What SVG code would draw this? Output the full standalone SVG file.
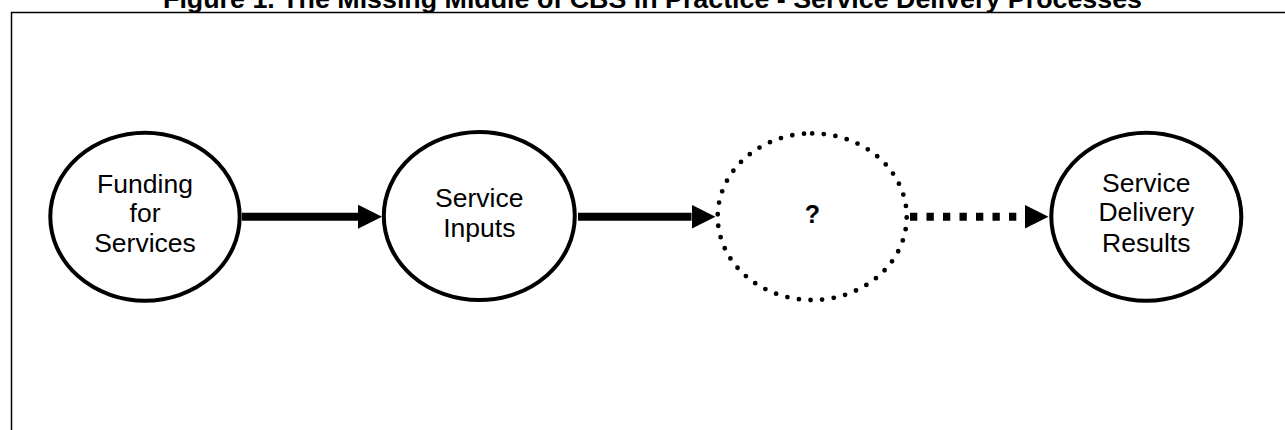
<svg xmlns="http://www.w3.org/2000/svg" width="1285" height="430" viewBox="0 0 1285 430">
  <style>
    .title { font-family: "Liberation Sans", Arial, sans-serif; font-size: 26.5px; font-weight: bold; fill: #000; }
    .label { font-family: "Liberation Sans", Arial, sans-serif; font-size: 26.5px; fill: #000; text-anchor: middle; }
    .qmark { font-family: "Liberation Sans", Arial, sans-serif; font-size: 25px; font-weight: bold; fill: #000; text-anchor: middle; }
    .node { fill: #fff; stroke: #000; stroke-width: 4; }
    .dotted { fill: #fff; stroke: #000; stroke-width: 4.8; stroke-linecap: round; stroke-dasharray: 0 11.7; }
    .edge { fill: none; stroke: #000; stroke-width: 8; }
    .edge.dashed { stroke-dasharray: 7.3 9.2; }
  </style>
  <defs>
    <marker id="head" markerUnits="userSpaceOnUse" markerWidth="24" markerHeight="24" viewBox="0 0 23.5 23.5" refX="0" refY="11.75" orient="auto">
      <path d="M0,0 L23.5,11.75 L0,23.5 Z" fill="#000"/>
    </marker>
  </defs>

  <rect width="1285" height="430" fill="#fff"/>

  <!-- figure caption, partly above the page edge -->
  <text class="title" x="163" y="7.5" textLength="979" lengthAdjust="spacingAndGlyphs">Figure 1.  The Missing Middle of CBS in Practice - Service Delivery Processes</text>

  <!-- outer frame -->
  <rect x="11.5" y="12.5" width="1300" height="440" fill="none" stroke="#000" stroke-width="1.5"/>

  <g id="connectors">
    <line class="edge" x1="242" y1="216.7" x2="358" y2="216.7" marker-end="url(#head)"/>
    <line class="edge" x1="578" y1="216.7" x2="691.5" y2="216.7" marker-end="url(#head)"/>
    <line class="edge dashed" x1="910" y1="216.7" x2="1025" y2="216.7"/>
    <path d="M1025,205 L1048.5,216.7 L1025,228.4 Z" fill="#000"/>
  </g>

  <g id="funding">
    <ellipse class="node" cx="145" cy="216.7" rx="94.7" ry="84"/>
    <text class="label" x="145" y="192.7">Funding</text>
    <text class="label" x="145" y="221.9">for</text>
    <text class="label" x="145" y="251.7">Services</text>
  </g>

  <g id="inputs">
    <ellipse class="node" cx="479.3" cy="216" rx="95.5" ry="84"/>
    <text class="label" x="479.3" y="206.7">Service</text>
    <text class="label" x="479.3" y="237.3">Inputs</text>
  </g>

  <g id="unknown">
    <path class="dotted" d="M812.2,133.4 A94.5,83.3 0 0 1 812.2,300 A94.5,83.3 0 0 1 812.2,133.4 Z"/>
    <text class="qmark" x="812.5" y="222.5">?</text>
  </g>

  <g id="results">
    <ellipse class="node" cx="1146.3" cy="216.7" rx="95" ry="84"/>
    <text class="label" x="1146.3" y="191.5">Service</text>
    <text class="label" x="1146.3" y="221">Delivery</text>
    <text class="label" x="1146.3" y="251.5">Results</text>
  </g>
</svg>
